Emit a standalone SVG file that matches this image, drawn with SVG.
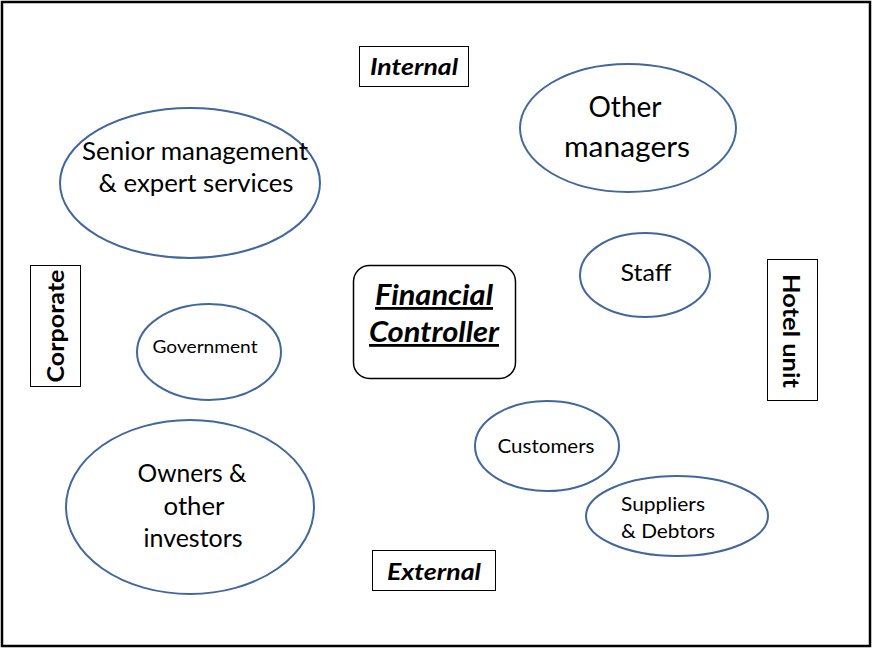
<svg xmlns="http://www.w3.org/2000/svg" width="872" height="648" viewBox="0 0 872 648">
  <style>
    .frame { fill: #ffffff; stroke: #000000; stroke-width: 2.5; }
    .oval { fill: #ffffff; stroke: #41679c; stroke-width: 2; }
    .tag { fill: #ffffff; stroke: #000000; stroke-width: 1; }
    .txt { font-family: Lato, "Liberation Sans", sans-serif; fill: #000000; }
    .mid { text-anchor: middle; }
    .left { text-anchor: start; }
    .bi { font-weight: bold; font-style: italic; }
    .b { font-weight: bold; }
  </style>
  <rect class="frame" x="2" y="2" width="868" height="644"/>

  <g id="connectors"></g>

  <g id="internal">
    <rect class="tag" x="359.5" y="46.5" width="109" height="40"/>
    <text class="txt mid bi" x="414" y="75" font-size="23" textLength="88" lengthAdjust="spacingAndGlyphs">Internal</text>
  </g>
  <g id="external">
    <rect class="tag" x="372.5" y="550.5" width="123" height="40"/>
    <text class="txt mid bi" x="434" y="580" font-size="23" textLength="94" lengthAdjust="spacingAndGlyphs">External</text>
  </g>
  <g id="corporate">
    <rect class="tag" x="30.5" y="265.5" width="50" height="121"/>
    <text class="txt mid b" transform="translate(64 326) rotate(-90)" font-size="23" textLength="113" lengthAdjust="spacingAndGlyphs">Corporate</text>
  </g>
  <g id="hotel-unit">
    <rect class="tag" x="767.5" y="259.5" width="50" height="141"/>
    <text class="txt mid b" transform="translate(783 331) rotate(90)" font-size="23" textLength="114" lengthAdjust="spacingAndGlyphs">Hotel unit</text>
  </g>
  <g id="financial-controller">
    <rect x="353.5" y="265.5" width="162" height="113" rx="16" fill="#ffffff" stroke="#000000" stroke-width="1.5"/>
    <text class="txt mid bi" x="434" y="305" font-size="28" text-decoration="underline" textLength="118" lengthAdjust="spacingAndGlyphs">Financial</text>
    <text class="txt mid bi" x="434" y="342" font-size="28" text-decoration="underline" textLength="130" lengthAdjust="spacingAndGlyphs">Controller</text>
  </g>
  <g id="senior-management">
    <ellipse class="oval" cx="190" cy="183" rx="130" ry="75"/>
    <text class="txt mid" x="195" y="160" font-size="25" textLength="226" lengthAdjust="spacingAndGlyphs">Senior management</text>
    <text class="txt mid" x="196" y="192" font-size="25" textLength="195" lengthAdjust="spacingAndGlyphs">&amp; expert services</text>
  </g>
  <g id="other-managers">
    <ellipse class="oval" cx="628" cy="128" rx="108" ry="64"/>
    <text class="txt mid" x="625" y="117" font-size="28" textLength="73" lengthAdjust="spacingAndGlyphs">Other</text>
    <text class="txt mid" x="627" y="157" font-size="28" textLength="126" lengthAdjust="spacingAndGlyphs">managers</text>
  </g>
  <g id="staff">
    <ellipse class="oval" cx="645" cy="275" rx="65" ry="42"/>
    <text class="txt mid" x="646" y="281" font-size="23" textLength="51" lengthAdjust="spacingAndGlyphs">Staff</text>
  </g>
  <g id="government">
    <ellipse class="oval" cx="209" cy="352" rx="72" ry="48"/>
    <text class="txt mid" x="205" y="353" font-size="17" textLength="105" lengthAdjust="spacingAndGlyphs">Government</text>
  </g>
  <g id="owners">
    <ellipse class="oval" cx="190" cy="507" rx="124" ry="87"/>
    <text class="txt mid" x="192" y="482" font-size="25" textLength="109" lengthAdjust="spacingAndGlyphs">Owners &amp;</text>
    <text class="txt mid" x="194" y="515" font-size="25" textLength="61" lengthAdjust="spacingAndGlyphs">other</text>
    <text class="txt mid" x="193" y="547" font-size="25" textLength="99" lengthAdjust="spacingAndGlyphs">investors</text>
  </g>
  <g id="customers">
    <ellipse class="oval" cx="547" cy="446" rx="72" ry="45"/>
    <text class="txt mid" x="546" y="453" font-size="20" textLength="97" lengthAdjust="spacingAndGlyphs">Customers</text>
  </g>
  <g id="suppliers">
    <ellipse class="oval" cx="677" cy="516" rx="91" ry="40"/>
    <text class="txt left" x="621" y="511" font-size="20" textLength="84" lengthAdjust="spacingAndGlyphs">Suppliers</text>
    <text class="txt left" x="621" y="538" font-size="20" textLength="94" lengthAdjust="spacingAndGlyphs">&amp; Debtors</text>
  </g>
</svg>
